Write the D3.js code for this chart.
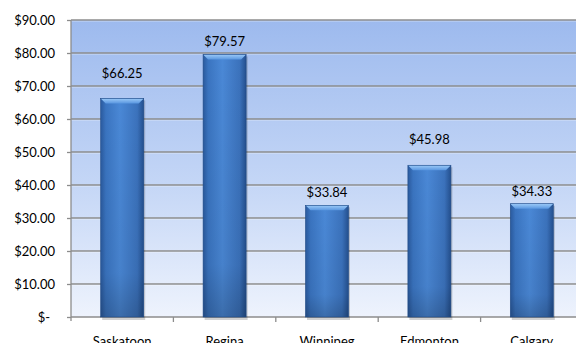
<!DOCTYPE html>
<html><head><meta charset="utf-8">
<script src="https://cdn.jsdelivr.net/npm/d3@7"></script>
<style>body{margin:0;background:#fff}svg{display:block}text{font-family:Lato,"Open Sans",sans-serif}</style>
</head><body>
<svg id="c" width="576" height="343"></svg>
<script>
const cities = ["Saskatoon","Regina","Winnipeg","Edmonton","Calgary"];
const prices = [66.25,79.57,33.84,45.98,34.33];
const yTicks = [0,10,20,30,40,50,60,70,80,90];

const svg = d3.select("#c");
const pLeft = 71, pTop = 20, pBottom = 317, bandW = 102.4;
const x = d3.scaleBand().domain(cities).range([pLeft, pLeft + bandW*cities.length]).padding(0);
const y = d3.scaleLinear().domain([0,90]).range([pBottom, pTop]);
const defs = svg.append("defs");

const bg = defs.append("linearGradient").attr("id","bg").attr("x1",0).attr("x2",0).attr("y1",0).attr("y2",1);
bg.append("stop").attr("offset","0%").attr("stop-color","#9dbaee");
bg.append("stop").attr("offset","55%").attr("stop-color","#c4d6f6");
bg.append("stop").attr("offset","100%").attr("stop-color","#eef3fd");

const bar = defs.append("linearGradient").attr("id","bar").attr("x1",0).attr("x2",1).attr("y1",0).attr("y2",0);
bar.append("stop").attr("offset","0%").attr("stop-color","#2a5a9e");
bar.append("stop").attr("offset","12%").attr("stop-color","#3a74c0");
bar.append("stop").attr("offset","45%").attr("stop-color","#4a88d6");
bar.append("stop").attr("offset","85%").attr("stop-color","#3b72bc");
bar.append("stop").attr("offset","100%").attr("stop-color","#24508f");

const shade = defs.append("linearGradient").attr("id","shade").attr("x1",0).attr("x2",0).attr("y1",0).attr("y2",1);
shade.append("stop").attr("offset","0%").attr("stop-color","#000").attr("stop-opacity",0);
shade.append("stop").attr("offset","80%").attr("stop-color","#000").attr("stop-opacity",0.05);
shade.append("stop").attr("offset","100%").attr("stop-color","#000").attr("stop-opacity",0.2);

const bev = defs.append("linearGradient").attr("id","bev").attr("x1",0).attr("x2",0).attr("y1",0).attr("y2",1);
bev.append("stop").attr("offset","0%").attr("stop-color","#9ccaf8");
bev.append("stop").attr("offset","100%").attr("stop-color","#5a97e0");

// plot background
svg.append("rect").attr("x",pLeft).attr("y",pTop).attr("width",576-pLeft).attr("height",pBottom-pTop).attr("fill","url(#bg)");

// gridlines
svg.append("g").selectAll("line").data(yTicks.filter(d=>d>0)).join("line")
  .attr("x1",pLeft).attr("x2",576).attr("y1",d=>y(d)).attr("y2",d=>y(d))
  .attr("stroke","#8c8c8c").attr("stroke-width",1.3);
svg.append("g").selectAll("line").data(yTicks.filter(d=>d>0)).join("line")
  .attr("x1",pLeft).attr("x2",576).attr("y1",d=>y(d)+1.3).attr("y2",d=>y(d)+1.3)
  .attr("stroke","#ffffff").attr("stroke-opacity",0.35).attr("stroke-width",0.8);

// y axis
const yAxis = d3.axisLeft(y).tickValues(yTicks).tickSize(4).tickPadding(12)
  .tickFormat(d => d===0 ? "$-" : "$" + d.toFixed(2));
const ya = svg.append("g").attr("transform",`translate(${pLeft},0)`).call(yAxis);
ya.select(".domain").attr("d",`M0,${pTop}V${pBottom+4}`).attr("stroke","#8c8c8c").attr("stroke-width",1.3);
ya.selectAll(".tick line").attr("stroke","#8c8c8c").attr("stroke-width",1.3);
ya.selectAll(".tick text").attr("font-size",13).attr("fill","#000").attr("font-family","Lato")
  .attr("dx",d=>d===0?-5:0);

// x axis line
svg.append("line").attr("x1",pLeft).attr("x2",576).attr("y1",pBottom).attr("y2",pBottom).attr("stroke","#8c8c8c").attr("stroke-width",1.3);
svg.append("g").selectAll("line").data(cities.slice(1)).join("line")
  .attr("x1",d=>x(d)).attr("x2",d=>x(d)).attr("y1",pBottom).attr("y2",pBottom+5)
  .attr("stroke","#8c8c8c").attr("stroke-width",1.3);
svg.append("g").selectAll("text").data(cities).join("text")
  .attr("x",d=>x(d)+x.bandwidth()/2).attr("y",346).attr("text-anchor","middle")
  .attr("font-size",13).attr("fill","#000").text(d=>d);

// bars
const bw = x.bandwidth()*0.42;
const data = cities.map((c,i)=>({c, v: prices[i]}));
const g = svg.append("g");
const bars = g.selectAll("g").data(data).join("g")
  .attr("transform",d=>`translate(${x(d.c)+x.bandwidth()/2-bw/2},0)`);
bars.append("rect").attr("x",1.5).attr("y",d=>y(d.v)+2).attr("width",bw).attr("height",d=>pBottom-y(d.v)+1)
  .attr("fill","#000").attr("opacity",0.18);
bars.append("rect").attr("x",0).attr("y",d=>y(d.v)).attr("width",bw).attr("height",d=>pBottom-y(d.v)).attr("fill","url(#bar)");
bars.append("rect").attr("x",0).attr("y",d=>y(d.v)).attr("width",bw).attr("height",d=>pBottom-y(d.v)).attr("fill","url(#shade)");
bars.append("path").attr("d",d=>{const t=y(d.v);return `M0,${t}H${bw}L${bw-5},${t+5}H5Z`;}).attr("fill","url(#bev)");
bars.append("rect").attr("x",0).attr("y",d=>y(d.v)).attr("width",bw).attr("height",d=>pBottom-y(d.v))
  .attr("fill","none").attr("stroke","#1f4a86").attr("stroke-width",0.6);

// value labels (lifted above a gridline if they would collide)
const grid = yTicks.map(t=>y(t));
function labelY(v){
  let b = y(v) - 8;
  const hit = grid.find(gy => gy > b-10 && gy < b+3);
  if (hit !== undefined) b = hit - 8;
  return b;
}
svg.append("g").selectAll("text").data(data).join("text")
  .attr("x",d=>x(d.c)+x.bandwidth()/2).attr("y",d=>labelY(d.v)).attr("text-anchor","middle")
  .attr("font-size",13).attr("fill","#000").text(d=>"$"+d.v.toFixed(2));
</script>
</body></html>
